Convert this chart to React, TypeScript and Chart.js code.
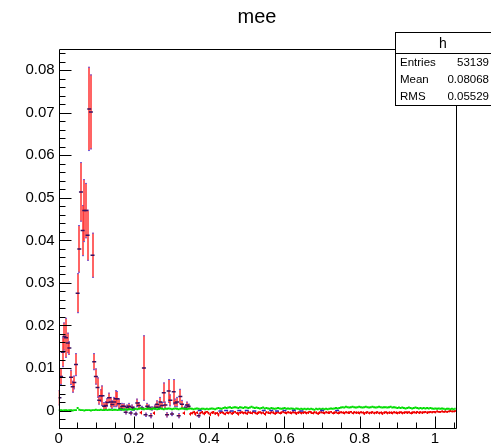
import React, { useEffect, useRef } from "react";
import { Chart, registerables } from "chart.js";

Chart.register(...registerables);

const TITLE = "mee";
const BIN_WIDTH = 0.0044;
const X_MIN = 0;
const X_MAX = 1.055;
const Y_MIN = -0.0041;
const Y_MAX = 0.0851;
const X_TICKS = [0, 0.2, 0.4, 0.6, 0.8, 1];
const X_TICK_LABELS = ["0", "0.2", "0.4", "0.6", "0.8", "1"];
const Y_TICKS = [0, 0.01, 0.02, 0.03, 0.04, 0.05, 0.06, 0.07, 0.08];
const Y_TICK_LABELS = ["0", "0.01", "0.02", "0.03", "0.04", "0.05", "0.06", "0.07", "0.08"];
const STATS_TITLE = "h";
const STATS_LABELS = ["Entries", "Mean", "RMS"];
const STATS_VALUES = ["53139", "0.08068", "0.05529"];

// red histogram (bin contents), one value per bin of width BIN_WIDTH
const redValues = [
  0.0030, 0.0080, 0.0137, 0.0174, 0.0171, 0.0159, 0.0147, 0.0078, 0.0056, 0.0066,
  0.0108, 0.0276, 0.0380, 0.0514, 0.0423, 0.0470, 0.0470, 0.0412, 0.0709, 0.0702,
  0.0365, 0.0115, 0.0080, 0.0054, 0.0024, 0.0035, 0.0035, 0.0010, 0.0012, 0.0019,
  0.0030, 0.0020, 0.0014, 0.0020, 0.0028, 0.0028, 0.0016, 0.0005, 0.0010, 0.0010,
  -0.0004, 0.0008, 0.0010, -0.0006, 0.0008, 0.0004, -0.0008, 0.0018, 0.0012, -0.0005,
  0.0006, 0.0100, -0.0010, 0.0010, 0.0008, -0.0012, 0.0005, -0.0006, 0.0008, 0.0015,
  0.0008, 0.0020, 0.0012, 0.0042, 0.0013, -0.0010, 0.0046, 0.0024, -0.0008, 0.0044,
  0.0018, 0.0020, -0.0012, 0.0033, 0.0015, -0.0006, 0.0006, 0.0013, 0.0010, -0.0008,
  -0.0006, -0.0004, -0.0008, -0.0005, -0.0012, -0.0006, -0.0004, -0.0007, -0.0005, -0.0003,
  -0.0006, -0.0009, -0.0005, -0.0004, -0.0007, -0.0006, -0.0010, -0.0005, -0.0004, -0.0006,
  -0.0008, -0.0005, -0.0006, -0.0004, -0.0007, -0.0005, -0.0003, -0.0006, -0.0008, -0.0005,
  -0.0004, -0.0006, -0.0005, -0.0007, -0.0004, -0.0005, -0.0006, -0.0003, -0.0005, -0.0007,
  -0.0005, -0.0004, -0.0006, -0.0005, -0.0008, -0.0004, -0.0005, -0.0006, -0.0004, -0.0005,
  -0.0007, -0.0005, -0.0004, -0.0006, -0.0005, -0.0003, -0.0005, -0.0006, -0.0004, -0.0005,
  -0.0006, -0.0004, -0.0005, -0.0007, -0.0005, -0.0004, -0.0006, -0.0005, -0.0004, -0.0006,
  -0.0005, -0.0003, -0.0005, -0.0006, -0.0004, -0.0005, -0.0007, -0.0005, -0.0004, -0.0005,
  -0.0006, -0.0004, -0.0005, -0.0005, -0.0003, -0.0006, -0.0005, -0.0004, -0.0006, -0.0005,
  -0.0004, -0.0005, -0.0006, -0.0004, -0.0005, -0.0005, -0.0003, -0.0006, -0.0004, -0.0005,
  -0.0005, -0.0006, -0.0004, -0.0005, -0.0007, -0.0005, -0.0004, -0.0006, -0.0005, -0.0004,
  -0.0006, -0.0005, -0.0004, -0.0006, -0.0005, -0.0007, -0.0005, -0.0004, -0.0006, -0.0005,
  -0.0005, -0.0006, -0.0004, -0.0005, -0.0006, -0.0005, -0.0004, -0.0006, -0.0005, -0.0004,
  -0.0005, -0.0004, -0.0006, -0.0005, -0.0004, -0.0005, -0.0003, -0.0005, -0.0004, -0.0005,
  -0.0004, -0.0003, -0.0005, -0.0004, -0.0003, -0.0004, -0.0003, -0.0004, -0.0002, -0.0003,
  -0.0003, -0.0002, -0.0003, -0.0002, -0.0003, -0.0002, -0.0001, -0.0002, -0.0002, -0.0001,
];

const redErrors = [
  0.0018, 0.0020, 0.0035, 0.0033, 0.0047, 0.0024, 0.0016, 0.0018, 0.0014, 0.0016,
  0.0027, 0.0047, 0.0056, 0.0070, 0.0060, 0.0074, 0.0065, 0.0060, 0.0099, 0.0088,
  0.0053, 0.0020, 0.0019, 0.0024, 0.0010, 0.0015, 0.0024, 0.0010, 0.0010, 0.0010,
  0.0012, 0.0012, 0.0010, 0.0012, 0.0020, 0.0018, 0.0012, 0.0006, 0.0008, 0.0007,
  0.0005, 0.0006, 0.0008, 0.0005, 0.0006, 0.0005, 0.0005, 0.0010, 0.0008, 0.0004,
  0.0005, 0.0077, 0.0005, 0.0008, 0.0006, 0.0006, 0.0005, 0.0004, 0.0006, 0.0009,
  0.0006, 0.0012, 0.0008, 0.0024, 0.0008, 0.0006, 0.0028, 0.0014, 0.0005, 0.0030,
  0.0010, 0.0012, 0.0006, 0.0018, 0.0010, 0.0004, 0.0005, 0.0008, 0.0006, 0.0004,
  0.0003, 0.0003, 0.0004, 0.0003, 0.0005, 0.0003, 0.0003, 0.0004, 0.0003, 0.0002,
  0.0003, 0.0004, 0.0003, 0.0003, 0.0003, 0.0003, 0.0004, 0.0003, 0.0002, 0.0003,
  0.0003, 0.0003, 0.0003, 0.0002, 0.0003, 0.0003, 0.0002, 0.0003, 0.0004, 0.0003,
  0.0002, 0.0003, 0.0003, 0.0003, 0.0002, 0.0003, 0.0003, 0.0002, 0.0003, 0.0003,
  0.0003, 0.0002, 0.0003, 0.0003, 0.0004, 0.0002, 0.0003, 0.0003, 0.0002, 0.0003,
  0.0003, 0.0003, 0.0002, 0.0003, 0.0003, 0.0002, 0.0003, 0.0003, 0.0002, 0.0003,
  0.0003, 0.0002, 0.0003, 0.0003, 0.0003, 0.0002, 0.0003, 0.0003, 0.0002, 0.0003,
  0.0003, 0.0002, 0.0003, 0.0003, 0.0002, 0.0003, 0.0003, 0.0003, 0.0002, 0.0003,
  0.0003, 0.0002, 0.0003, 0.0003, 0.0002, 0.0003, 0.0003, 0.0002, 0.0003, 0.0003,
  0.0002, 0.0003, 0.0003, 0.0002, 0.0003, 0.0003, 0.0002, 0.0003, 0.0002, 0.0003,
  0.0003, 0.0003, 0.0002, 0.0003, 0.0003, 0.0003, 0.0002, 0.0003, 0.0003, 0.0002,
  0.0003, 0.0003, 0.0002, 0.0003, 0.0003, 0.0003, 0.0003, 0.0002, 0.0003, 0.0003,
  0.0003, 0.0003, 0.0002, 0.0003, 0.0003, 0.0003, 0.0002, 0.0003, 0.0003, 0.0002,
  0.0003, 0.0002, 0.0003, 0.0003, 0.0002, 0.0003, 0.0002, 0.0003, 0.0002, 0.0003,
  0.0002, 0.0002, 0.0003, 0.0002, 0.0002, 0.0002, 0.0002, 0.0002, 0.0002, 0.0002,
  0.0002, 0.0002, 0.0002, 0.0002, 0.0002, 0.0002, 0.0002, 0.0002, 0.0002, 0.0002,
];

// green histogram
const greenValues = [
  0.0001, 0.0001, 0.0000, 0.0001, 0.0001, 0.0000, 0.0001, 0.0001, 0.0000, 0.0001,
  0.0001, 0.0006, 0.0002, 0.0001, 0.0001, 0.0000, 0.0001, 0.0001, 0.0001, 0.0000,
  0.0001, 0.0001, 0.0002, 0.0001, 0.0001, 0.0002, 0.0001, 0.0001, 0.0002, 0.0001,
  0.0002, 0.0002, 0.0001, 0.0002, 0.0002, 0.0001, 0.0002, 0.0003, 0.0002, 0.0002,
  0.0003, 0.0002, 0.0003, 0.0003, 0.0002, 0.0003, 0.0004, 0.0003, 0.0004, 0.0005,
  0.0004, 0.0003, 0.0004, 0.0004, 0.0005, 0.0003, 0.0004, 0.0005, 0.0004, 0.0003,
  0.0004, 0.0005, 0.0004, 0.0003, 0.0004, 0.0004, 0.0005, 0.0004, 0.0003, 0.0004,
  0.0005, 0.0004, 0.0003, 0.0004, 0.0005, 0.0004, 0.0004, 0.0003, 0.0004, 0.0005,
  0.0004, 0.0003, 0.0004, 0.0005, 0.0004, 0.0003, 0.0004, 0.0004, 0.0003, 0.0004,
  0.0003, 0.0004, 0.0005, 0.0004, 0.0003, 0.0005, 0.0006, 0.0005, 0.0004, 0.0006,
  0.0007, 0.0006, 0.0007, 0.0008, 0.0006, 0.0007, 0.0008, 0.0007, 0.0006, 0.0008,
  0.0007, 0.0006, 0.0008, 0.0007, 0.0006, 0.0007, 0.0009, 0.0007, 0.0006, 0.0007,
  0.0006, 0.0005, 0.0006, 0.0007, 0.0005, 0.0006, 0.0005, 0.0004, 0.0006, 0.0005,
  0.0004, 0.0005, 0.0006, 0.0005, 0.0004, 0.0005, 0.0006, 0.0004, 0.0005, 0.0004,
  0.0005, 0.0004, 0.0003, 0.0005, 0.0004, 0.0003, 0.0004, 0.0003, 0.0004, 0.0003,
  0.0004, 0.0003, 0.0004, 0.0003, 0.0002, 0.0004, 0.0003, 0.0004, 0.0003, 0.0004,
  0.0003, 0.0004, 0.0003, 0.0004, 0.0005, 0.0004, 0.0005, 0.0006, 0.0005, 0.0006,
  0.0007, 0.0008, 0.0007, 0.0009, 0.0008, 0.0007, 0.0008, 0.0009, 0.0008, 0.0007,
  0.0008, 0.0009, 0.0008, 0.0007, 0.0008, 0.0009, 0.0008, 0.0007, 0.0008, 0.0009,
  0.0008, 0.0007, 0.0008, 0.0009, 0.0008, 0.0007, 0.0008, 0.0008, 0.0007, 0.0008,
  0.0009, 0.0007, 0.0008, 0.0007, 0.0006, 0.0007, 0.0006, 0.0007, 0.0006, 0.0005,
  0.0006, 0.0007, 0.0006, 0.0005, 0.0006, 0.0007, 0.0006, 0.0005, 0.0006, 0.0005,
  0.0006, 0.0005, 0.0006, 0.0005, 0.0006, 0.0005, 0.0004, 0.0005, 0.0004, 0.0005,
  0.0004, 0.0005, 0.0004, 0.0003, 0.0004, 0.0004, 0.0003, 0.0004, 0.0003, 0.0004,
];

// blue markers near zero
const blueX = [0.375, 0.43, 0.445, 0.46, 0.48, 0.5, 0.52, 0.545, 0.565, 0.58, 0.6, 0.625, 0.645, 0.7, 0.74];
const blueY = [0.0, -0.0001, 0.0, -0.0001, 0.0, 0.0, -0.0001, 0.0, 0.0, -0.0001, 0.0, 0.0, -0.0001, 0.0, 0.0];

const FONT = '"Liberation Sans", Arial, Helvetica, sans-serif';

const binCenter = (i: number) => X_MIN + BIN_WIDTH * (i + 0.5);
const isBig = (i: number) => redErrors[i] >= 0.0005;

const rootPlugin = {
  id: "rootStyle",
  beforeDatasetsDraw(chart: any) {
    const { ctx, chartArea } = chart;
    const ys = chart.scales.y;
    const meta = chart.getDatasetMeta(2);
    ctx.save();
    ctx.beginPath();
    ctx.rect(chartArea.left, chartArea.top, chartArea.right - chartArea.left, chartArea.bottom - chartArea.top);
    ctx.clip();
    meta.data.forEach((el: any, i: number) => {
      const v = redValues[i];
      const e = redErrors[i];
      const top = ys.getPixelForValue(v + e);
      const bot = ys.getPixelForValue(v - e);
      const x = Math.round(el.x);
      if (isBig(i)) {
        ctx.fillStyle = "rgba(255,40,40,0.72)";
        ctx.fillRect(x - 1, top, 2, bot - top);
        ctx.fillStyle = "rgba(90,90,240,0.85)";
        ctx.fillRect(x - 1, top, 2, 1);
        ctx.fillRect(x - 1, bot - 1, 2, 1);
      } else {
        ctx.fillStyle = "#ff0000";
        ctx.fillRect(x, top, 1, bot - top);
      }
    });
    ctx.restore();
  },
  afterDatasetsDraw(chart: any) {
    const { ctx, chartArea } = chart;
    const xs = chart.scales.x;
    const ys = chart.scales.y;
    const L = Math.round(chartArea.left) + 0.5;
    const R = Math.round(chartArea.right) + 0.5;
    const T = Math.round(chartArea.top) + 0.5;
    const B = Math.round(chartArea.bottom) + 0.5;
    ctx.save();
    ctx.strokeStyle = "#000";
    ctx.lineWidth = 1;
    ctx.beginPath();
    ctx.rect(L, T, R - L, B - T);
    ctx.stroke();
    ctx.beginPath();
    for (let k = -2; k <= 42; k++) {
      const v = k * 0.002;
      if (v < Y_MIN || v > Y_MAX) continue;
      const p = Math.round(ys.getPixelForValue(v)) + 0.5;
      const major = k % 5 === 0;
      ctx.moveTo(L, p);
      ctx.lineTo(L + (major ? 12 : 6), p);
    }
    for (let k = 0; k <= 21; k++) {
      const v = k * 0.05;
      if (v > X_MAX) continue;
      const p = Math.round(xs.getPixelForValue(v)) + 0.5;
      const major = k % 4 === 0;
      ctx.moveTo(p, B);
      ctx.lineTo(p, B - (major ? 12 : 6));
    }
    ctx.stroke();
    ctx.restore();
  },
  afterDraw(chart: any) {
    const { ctx } = chart;
    ctx.save();
    ctx.fillStyle = "#000";
    ctx.font = `20px ${FONT}`;
    ctx.textAlign = "center";
    ctx.textBaseline = "middle";
    ctx.fillText(TITLE, 257, 17);
    ctx.fillStyle = "#fff";
    ctx.fillRect(395.5, 32.5, 100, 73);
    ctx.strokeStyle = "#000";
    ctx.lineWidth = 1;
    ctx.strokeRect(395.5, 32.5, 100, 73);
    ctx.beginPath();
    ctx.moveTo(395.5, 53.5);
    ctx.lineTo(495, 53.5);
    ctx.stroke();
    ctx.fillStyle = "#000";
    ctx.font = `14px ${FONT}`;
    ctx.textAlign = "center";
    ctx.fillText(STATS_TITLE, 443, 44);
    ctx.font = `11.5px ${FONT}`;
    const rows = [63, 80, 96.5];
    STATS_LABELS.forEach((lab, i) => {
      ctx.textAlign = "left";
      ctx.fillText(lab, 400, rows[i]);
      ctx.textAlign = "right";
      ctx.fillText(STATS_VALUES[i], 489, rows[i]);
    });
    ctx.restore();
  },
};

export default function App() {
  const ref = useRef<HTMLCanvasElement | null>(null);
  useEffect(() => {
    if (!ref.current) return;
    const redData = redValues.map((v, i) => ({ x: binCenter(i), y: v }));
    const greenData = greenValues.map((v, i) => ({ x: binCenter(i), y: v }));
    const blueData = blueX.map((x, i) => ({ x, y: blueY[i] }));
    const chart = new Chart(ref.current, {
      type: "scatter",
      data: {
        datasets: [
          {
            label: "blue",
            data: blueData,
            pointStyle: "line",
            pointRadius: 2,
            pointBorderWidth: 1.5,
            pointBorderColor: "#2a2ab8",
            pointBackgroundColor: "#2a2ab8",
          },
          {
            label: "green",
            data: greenData,
            pointStyle: "rect",
            pointRadius: 1.4,
            pointBorderWidth: 0,
            pointBackgroundColor: "#00dd00",
            pointBorderColor: "#00dd00",
          },
          {
            label: "red",
            data: redData,
            pointStyle: (c: any) => (isBig(c.dataIndex) ? "line" : "rect"),
            pointRadius: (c: any) => (isBig(c.dataIndex) ? 2 : 1.3),
            pointBorderWidth: (c: any) => (isBig(c.dataIndex) ? 1.5 : 0),
            pointBorderColor: (c: any) => (isBig(c.dataIndex) ? "#3a1060" : "#ee0000"),
            pointBackgroundColor: "#ee0000",
          },
        ],
      },
      options: {
        animation: false,
        responsive: false,
        devicePixelRatio: 1,
        events: [],
        layout: { padding: { left: 0, top: 48.5, right: 35.3, bottom: 0 } },
        plugins: {
          legend: { display: false },
          tooltip: { enabled: false },
          title: { display: false },
        },
        scales: {
          x: {
            type: "linear",
            min: X_MIN,
            max: X_MAX,
            afterFit: (s: any) => {
              s.height = 18;
            },
            afterBuildTicks: (s: any) => {
              s.ticks = X_TICKS.map((v) => ({ value: v }));
            },
            ticks: {
              callback: (_v: any, i: number) => X_TICK_LABELS[i],
              font: { family: FONT, size: 15 },
              color: "#000",
              padding: 2,
              maxRotation: 0,
              autoSkip: false,
            },
            grid: { display: false, drawTicks: false },
            border: { display: false },
          },
          y: {
            type: "linear",
            min: Y_MIN,
            max: Y_MAX,
            afterFit: (s: any) => {
              s.width = 58.6;
            },
            afterBuildTicks: (s: any) => {
              s.ticks = Y_TICKS.map((v) => ({ value: v }));
            },
            ticks: {
              callback: (_v: any, i: number) => Y_TICK_LABELS[i],
              font: { family: FONT, size: 15 },
              color: "#000",
              padding: 4,
              autoSkip: false,
            },
            grid: { display: false, drawTicks: false },
            border: { display: false },
          },
        },
      },
      plugins: [rootPlugin],
    });
    return () => chart.destroy();
  }, []);
  return (
    <div style={{ position: "absolute", left: 0, top: 0, width: 491, height: 446, background: "#fff" }}>
      <canvas ref={ref} width={491} height={446} style={{ display: "block" }} />
    </div>
  );
}
